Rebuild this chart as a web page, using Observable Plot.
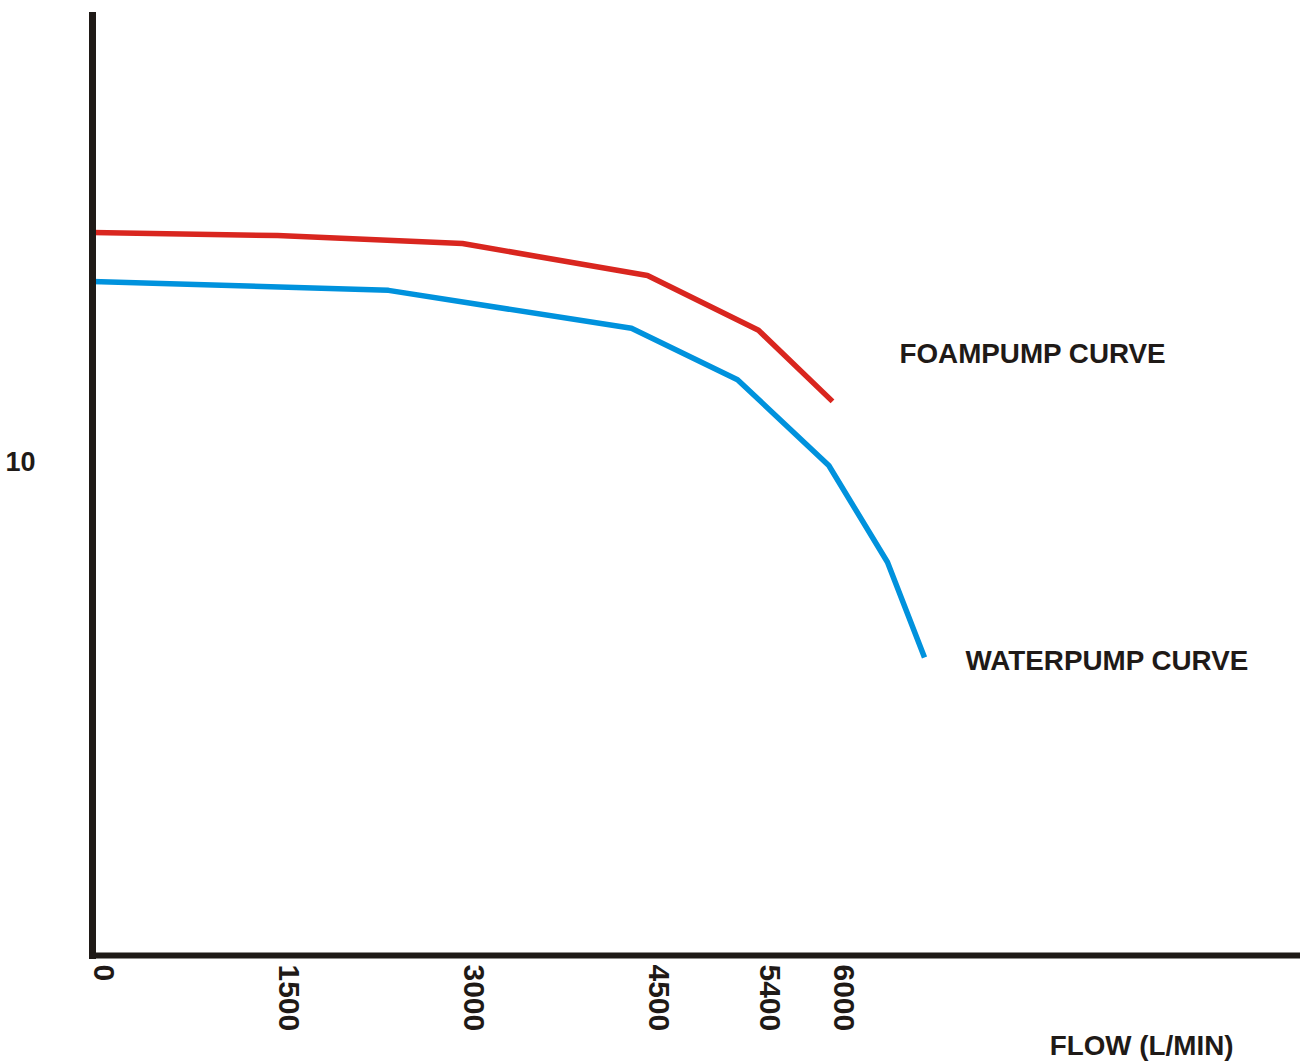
<!DOCTYPE html>
<html>
<head>
<meta charset="utf-8">
<script src="https://cdn.jsdelivr.net/npm/d3@7"></script>
<script src="https://cdn.jsdelivr.net/npm/@observablehq/plot@0.6"></script>
<style>
  html, body { margin: 0; padding: 0; background: #fff; }
  #chart svg { display: block; }
</style>
</head>
<body>
<div id="chart"></div>
<script>
// Flow (L/min) tick values
const flowTicks = [0, 1500, 3000, 4500, 5400, 6000];
const yTicks = [10];

// Foam pump curve
const foamFlow = [0, 1500, 3000, 4500, 5400, 6000];
const foamHead = [14.65, 14.59, 14.43, 13.78, 12.67, 11.23];

// Water pump curve
const waterFlow = [0, 2400, 4370, 5230, 5970, 6446, 6746];
const waterHead = [13.66, 13.48, 12.71, 11.67, 9.93, 7.97, 6.04];

// Curve labels
const labelText = ["FOAMPUMP CURVE", "WATERPUMP CURVE"];
const labelFlow = [6543, 7079];
const labelHead = [12.18, 5.96];

const axisLabel = "FLOW (L/MIN)";

const ink = "#1f1a17";
const red = "#d9261f";
const blue = "#0092dd";

const foam = foamFlow.map((x, i) => ({x, y: foamHead[i]}));
const water = waterFlow.map((x, i) => ({x, y: waterHead[i]}));
const labels = labelText.map((t, i) => ({t, x: labelFlow[i], y: labelHead[i]}));

const chart = Plot.plot({
  width: 1300,
  height: 1061,
  marginLeft: 92,
  marginRight: 0,
  marginTop: 15,
  marginBottom: 106,
  style: {fontFamily: "'Liberation Sans', Arial, sans-serif", color: ink, background: "#fff"},
  x: {domain: [0, 6000], range: [92, 832]},
  y: {domain: [0, 19.05]},
  marks: [
    Plot.line(foam, {x: "x", y: "y", stroke: red, strokeWidth: 5.5, strokeLinejoin: "miter", strokeLinecap: "butt"}),
    Plot.line(water, {x: "x", y: "y", stroke: blue, strokeWidth: 5.5, strokeLinejoin: "miter", strokeLinecap: "butt"}),
    Plot.frame({anchor: "left", stroke: ink, strokeWidth: 7, strokeLinecap: "square"}),
    Plot.frame({anchor: "bottom", stroke: ink, strokeWidth: 6, strokeLinecap: "square"}),
    Plot.axisX({ticks: flowTicks, tickRotate: 90, tickSize: 0, tickPadding: 9, fontSize: 30, fontWeight: "bold", label: null, tickFormat: d => String(d), dx: 11}),
    Plot.axisY({ticks: yTicks, tickSize: 0, tickPadding: 57, fontSize: 27, fontWeight: "bold", label: null}),
    Plot.text(labels, {x: "x", y: "y", text: "t", textAnchor: "start", lineAnchor: "middle", fontSize: 27.8, fontWeight: "bold", fill: ink}),
    Plot.text([axisLabel], {text: d => d, frameAnchor: "bottom-right", textAnchor: "end", lineAnchor: "bottom", dx: -67, dy: 99, fontSize: 27.8, fontWeight: "bold", fill: ink})
  ]
});
document.getElementById("chart").appendChild(chart);
</script>
</body>
</html>
